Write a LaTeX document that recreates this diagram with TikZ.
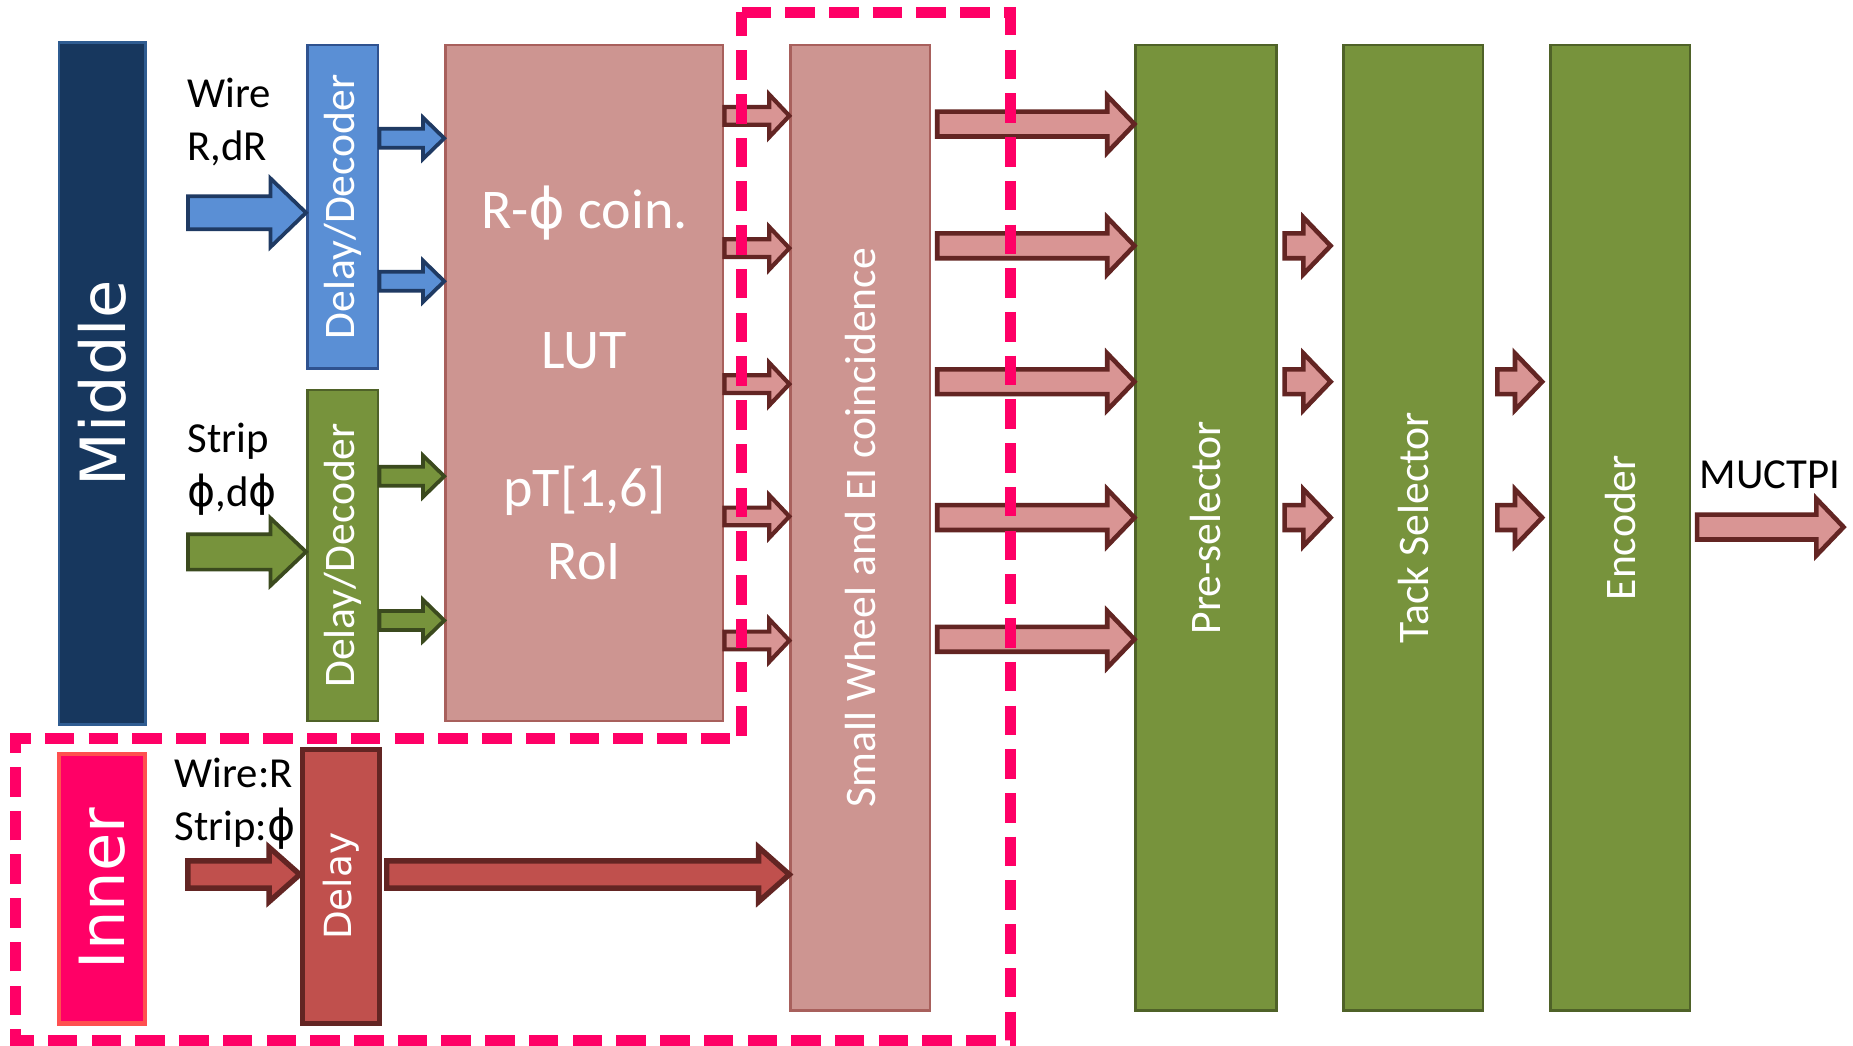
\documentclass[tikz,border=0pt]{standalone}
\usepackage{fontspec}
\setmainfont{Carlito}
\newfontfamily\dejavu{DejaVu Sans}
\usepackage{graphicx}
\usetikzlibrary{calc}

\definecolor{navyfill}{HTML}{17375E}
\definecolor{navyline}{HTML}{2F5C91}
\definecolor{innerfill}{HTML}{FF0066}
\definecolor{innerline}{HTML}{FF5050}
\definecolor{bluefill}{HTML}{5A8FD5}
\definecolor{blueline}{HTML}{2F528F}
\definecolor{bluedark}{HTML}{1F3A63}
\definecolor{greenfill}{HTML}{77933C}
\definecolor{greenline}{HTML}{4F6228}
\definecolor{greendark}{HTML}{3B4A1E}
\definecolor{lutfill}{HTML}{CD9591}
\definecolor{lutline}{HTML}{A8605C}
\definecolor{arrfill}{HTML}{D99594}
\definecolor{arrline}{HTML}{632523}
\definecolor{delayfill}{HTML}{C0504D}
\definecolor{dashpink}{HTML}{FF0066}

\newcommand{\phis}{{\dejavu ϕ}}

\tikzset{
  blk/.style={draw, line width=0.6pt, inner sep=0pt, text=white},
  vtxt/.style={font=\fontsize{10.5}{12.6}\selectfont},
  lbl/.style={font=\fontsize{10.3}{12.8}\selectfont, align=left, anchor=west, inner sep=0pt},
  luttxt/.style={font=\fontsize{13.5}{16}\selectfont, text=white, inner sep=0pt},
  % block arrow drawn from start point to target x
  barrow/.style n args={3}{to path={let \p1=(\tikztostart), \p2=(\tikztotarget) in
      (\x1,\y1+#1) -- (\x2-#3,\y1+#1) -- (\x2-#3,\y1+#2) -- (\x2,\y1)
      -- (\x2-#3,\y1-#2) -- (\x2-#3,\y1-#1) -- (\x1,\y1-#1) -- cycle}},
  bluebig/.style={barrow={0.14cm}{0.29cm}{0.30cm}, fill=bluefill, draw=bluedark, line width=0.9pt},
  bluesmall/.style={barrow={0.08cm}{0.175cm}{0.18cm}, fill=bluefill, draw=bluedark, line width=0.9pt},
  greenbig/.style={barrow={0.15cm}{0.285cm}{0.30cm}, fill=greenfill, draw=greendark, line width=0.9pt},
  greensmall/.style={barrow={0.08cm}{0.175cm}{0.18cm}, fill=greenfill, draw=greendark, line width=0.9pt},
  pinksmall/.style={barrow={0.075cm}{0.18cm}{0.17cm}, fill=arrfill, draw=arrline, line width=1.0pt},
  pinkbig/.style={barrow={0.105cm}{0.24cm}{0.23cm}, fill=arrfill, draw=arrline, line width=1.1pt},
  redbig/.style={barrow={0.115cm}{0.23cm}{0.26cm}, fill=delayfill, draw=arrline, line width=1.3pt},
}

\begin{document}
\begin{tikzpicture}
  \fill[white] (0,0) rectangle (15.68,8.85);
  \useasboundingbox (0,0) rectangle (15.68,8.85);

  % stations
  \node[blk, fill=navyfill, draw=navyline, minimum width=0.73cm, minimum height=5.77cm,
    font=\dejavu\fontsize{15}{18}\selectfont] (mid) at (0.865,5.605) {\rotatebox{90}{Middle}};
  \node[blk, fill=innerfill, draw=innerline, line width=1pt, minimum width=0.73cm, minimum height=2.28cm,
    font=\dejavu\fontsize{15}{18}\selectfont] (inner) at (0.865,1.33) {\rotatebox{90}{Inner}};

  % input labels
  \node[lbl] (wirelbl)  at (1.58,7.82) {Wire\\R,dR};
  \node[lbl] (striplbl) at (1.58,4.88) {Strip\\\phis,d\phis};
  \node[lbl] (innerlbl) at (1.47,2.05) {Wire:R\\Strip:\phis};

  % delay / decoder
  \node[blk, vtxt, fill=bluefill, draw=blueline, minimum width=0.60cm, minimum height=2.74cm]
    (dd1) at (2.90,7.10) {\rotatebox{90}{Delay/Decoder}};
  \node[blk, vtxt, fill=greenfill, draw=greenline, minimum width=0.60cm, minimum height=2.80cm]
    (dd2) at (2.90,4.15) {\rotatebox{90}{Delay/Decoder}};
  \node[blk, fill=delayfill, draw=arrline, line width=1.3pt, minimum width=0.65cm, minimum height=2.32cm,
    font=\dejavu\fontsize{9}{11}\selectfont] (dly) at (2.885,1.35) {\rotatebox{90}{Delay}};

  % coincidence blocks
  \node[blk, fill=lutfill, draw=lutline, minimum width=2.35cm, minimum height=5.72cm] (lut) at (4.945,5.61) {};
  \node[luttxt] (rphi) at (4.945,7.05) {R-\phis{} coin.};
  \node[luttxt] (luttx) at (4.945,5.88) {LUT};
  \node[luttxt] (ptrng) at (4.945,4.70) {pT[1,6]};
  \node[luttxt] (roi) at (4.945,4.10) {RoI};
  \node[blk, vtxt, fill=lutfill, draw=lutline, minimum width=1.18cm, minimum height=8.17cm]
    (swc) at (7.28,4.385) {\rotatebox{90}{Small Wheel and EI coincidence}};

  % selectors
  \node[blk, vtxt, fill=greenfill, draw=greenline, minimum width=1.19cm, minimum height=8.17cm]
    (pre) at (10.205,4.385) {\rotatebox{90}{Pre-selector}};
  \node[blk, vtxt, fill=greenfill, draw=greenline, minimum width=1.18cm, minimum height=8.17cm]
    (tack) at (11.96,4.385) {\rotatebox{90}{Tack Selector}};
  \node[blk, vtxt, fill=greenfill, draw=greenline, minimum width=1.18cm, minimum height=8.17cm]
    (enc) at (13.71,4.385) {\rotatebox{90}{Encoder}};
  \node[font=\fontsize{10.3}{12}\selectfont, inner sep=0pt] (muctpi) at (14.98,4.83) {MUCTPI};

  % arrows
  \coordinate (wirein) at (1.59,7.05);
  \coordinate (stripin) at (1.59,4.18);
  \coordinate (innerin) at (1.59,1.45);
  \coordinate (l1out) at (15.60,4.39);
  \draw[bluebig] (wirein) to (dd1.west |- wirein);
  \draw[greenbig] (stripin) to (dd2.west |- stripin);
  \draw[redbig] (innerin) to (dly.west |- innerin);
  \foreach \ya in {7.68,6.47}
    \draw[bluesmall] (dd1.east |- 0,\ya) to (lut.west |- 0,\ya);
  \foreach \ya in {4.82,3.60}
    \draw[greensmall] (dd2.east |- 0,\ya) to (lut.west |- 0,\ya);
  \foreach \ya in {7.87,6.75,5.60,4.48,3.43}
    \draw[pinksmall] (lut.east |- 0,\ya) to (swc.west |- 0,\ya);
  \foreach \ya in {7.80,6.77,5.62,4.47,3.44}
    \draw[pinkbig] ([xshift=0.05cm]swc.east |- 0,\ya) to (pre.west |- 0,\ya);
  \foreach \ya in {6.77,5.62,4.47}
    \draw[pinkbig] ([xshift=0.06cm]pre.east |- 0,\ya) to ([xshift=-0.10cm]tack.west |- 0,\ya);
  \foreach \ya in {5.62,4.47}
    \draw[pinkbig] ([xshift=0.11cm]tack.east |- 0,\ya) to ([xshift=-0.06cm]enc.west |- 0,\ya);
  \draw[pinkbig] ([xshift=0.05cm]enc.east |- l1out) to (l1out);
  \draw[redbig] ([xshift=0.04cm]dly.east |- innerin) to (swc.west |- innerin);

  % dashed region
  \draw[dashpink, line width=0.09cm, dash pattern=on 0.25cm off 0.12cm]
    (6.275,8.745) -- (8.55,8.745) -- (8.55,0.045) -- (0.13,0.045) -- (0.13,2.60) -- (6.275,2.60) -- cycle;
\end{tikzpicture}
\end{document}
